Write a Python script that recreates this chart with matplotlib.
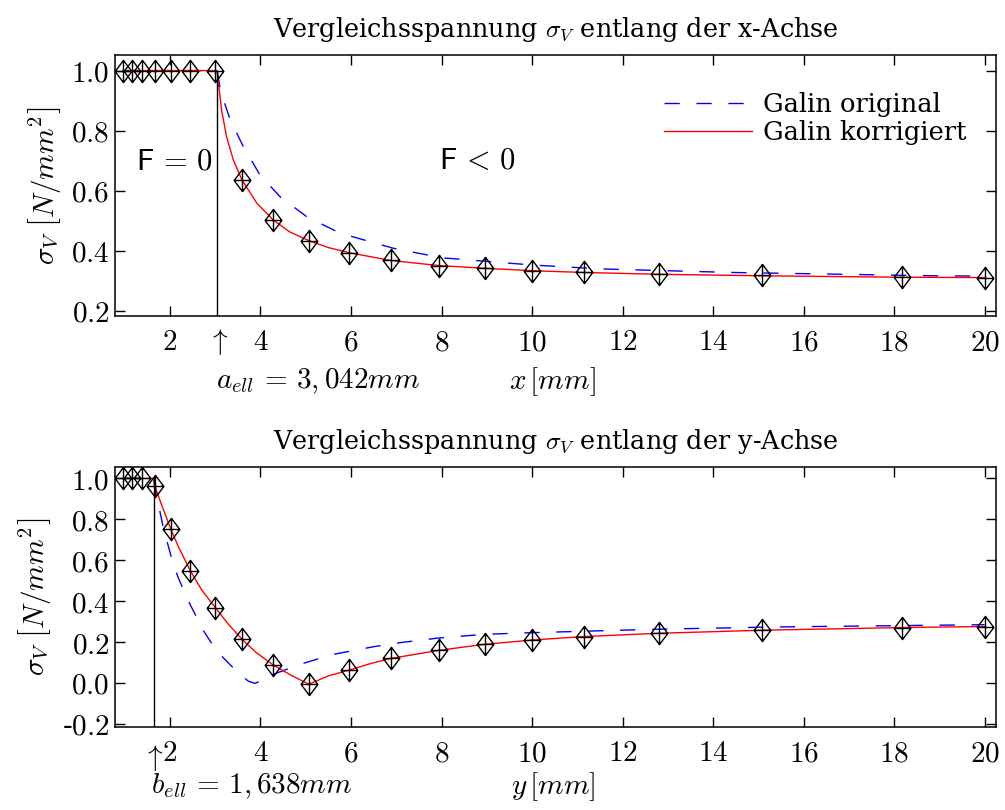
import matplotlib
matplotlib.use("Agg")
import matplotlib.pyplot as plt
from matplotlib.path import Path

plt.rcParams['mathtext.fontset'] = 'cm'
plt.rcParams['font.family'] = ['DejaVu Serif']

# marker positions (same x for both plots)
x_pts = [0.96, 1.16, 1.39, 1.67, 2.02, 2.45, 3.0, 3.59, 4.28, 5.07, 5.96, 6.88,
         7.95, 8.95, 10.0, 11.15, 12.8, 15.08, 18.18, 20.0]
top_pts = [1.0, 1.0, 1.0, 1.0, 1.0, 1.0, 1.0, 0.636, 0.502, 0.433, 0.393, 0.367,
           0.350, 0.341, 0.333, 0.327, 0.321, 0.317, 0.311, 0.310]
bot_pts = [1.0, 1.0, 1.0, 0.962, 0.751, 0.549, 0.369, 0.214, 0.088, -0.006, 0.063, 0.120,
           0.160, 0.189, 0.210, 0.227, 0.243, 0.258, 0.271, 0.276]

# top: x-axis curves
top_red_x = [0.96, 3.042, 3.07, 3.14, 3.25, 3.40, 3.59, 3.92, 4.28, 4.65, 5.07, 5.5, 5.96,
             6.88, 7.95, 8.95, 10.0, 11.15, 12.8, 15.08, 18.18, 20.0]
top_red_y = [1.0, 1.0, 0.958, 0.869, 0.78, 0.702, 0.636, 0.558, 0.502, 0.462, 0.433, 0.410, 0.393,
             0.367, 0.350, 0.341, 0.333, 0.327, 0.321, 0.316, 0.311, 0.310]
top_blue_x = [0.96, 3.042, 3.1, 3.2, 3.33, 3.62, 3.99, 4.43, 5.02, 5.76, 6.93, 8.0, 10.0,
              11.5, 14.44, 18.86, 20.0]
top_blue_y = [1.0, 1.0, 0.95, 0.895, 0.836, 0.747, 0.652, 0.58, 0.513, 0.458, 0.408, 0.376, 0.352,
              0.339, 0.327, 0.316, 0.315]

# bottom: y-axis curves
bot_red_x = [0.96, 1.638, 1.67, 1.8, 2.02, 2.2, 2.45, 2.7, 3.0, 3.3, 3.59, 3.9, 4.28, 4.7, 5.07,
             5.5, 5.96, 6.4, 6.88, 7.95, 8.95, 10.0, 11.15, 12.8, 15.08, 18.18, 20.0]
bot_red_y = [1.0, 1.0, 0.962, 0.88, 0.751, 0.66, 0.549, 0.455, 0.369, 0.285, 0.214, 0.150, 0.088,
             0.035, -0.006, 0.035, 0.063, 0.093, 0.120, 0.160, 0.189, 0.210, 0.227, 0.243, 0.258,
             0.271, 0.276]
bot_blue_x = [0.96, 1.638, 1.7, 1.78, 1.85, 2.04, 2.18, 2.44, 2.74, 2.96, 3.18, 3.47, 3.73, 3.88,
              3.99, 4.28, 4.87, 5.61, 6.49, 7.08, 7.9, 8.95, 10.0, 12.8, 15.4, 19.6, 20.0]
bot_blue_y = [1.0, 1.0, 0.92, 0.836, 0.762, 0.607, 0.516, 0.386, 0.255, 0.181, 0.123, 0.058, 0.009,
              -0.002, 0.009, 0.042, 0.091, 0.14, 0.177, 0.197, 0.219, 0.238, 0.246, 0.263, 0.274,
              0.284, 0.285]

a_ell = 3.042
b_ell = 1.638

xticks = [2, 4, 6, 8, 10, 12, 14, 16, 18, 20]
top_yticks = [0.2, 0.4, 0.6, 0.8, 1.0]
bot_yticks = [-0.2, 0.0, 0.2, 0.4, 0.6, 0.8, 1.0]

# diamond with a cross inside
mverts = [(0, 1), (0.75, 0), (0, -1), (-0.75, 0), (0, 1),
          (0, 1), (0, -1), (-0.75, 0), (0.75, 0)]
mcodes = [Path.MOVETO, Path.LINETO, Path.LINETO, Path.LINETO, Path.CLOSEPOLY,
          Path.MOVETO, Path.LINETO, Path.MOVETO, Path.LINETO]
dmarker = Path(mverts, mcodes)

fig = plt.figure(figsize=(10.05, 8.1), dpi=100)
ax1 = fig.add_axes([0.1144, 0.6099, 0.8766, 0.3222])
ax2 = fig.add_axes([0.1144, 0.1025, 0.8766, 0.3210])

ylab = r'$\sigma_V\ \left[N/mm^2\right]$'
fs = 21
dash = (11, 12)

def style(ax, yticks, ylim):
    ax.set_xlim(0.785, 20.25)
    ax.set_ylim(*ylim)
    ax.set_xticks(xticks)
    ax.set_xticklabels(['$%d$' % t for t in xticks])
    ax.set_yticks(yticks)
    ax.set_yticklabels([('-$%.1f$' % abs(t)) if t < 0 else '$%.1f$' % t for t in yticks])
    ax.tick_params(direction='in', top=True, right=True, length=7, width=1,
                   labelsize=fs)
    ax.tick_params(axis='x', pad=9)
    ax.tick_params(axis='y', pad=4)
    for s in ax.spines.values():
        s.set_linewidth(1.1)
    ax.set_ylabel(ylab, fontsize=fs, labelpad=6)

# top plot
ax1.plot(top_blue_x, top_blue_y, color='blue', lw=1.0, dashes=dash, label='Galin original')
ax1.plot(top_red_x, top_red_y, color='red', lw=1.0, label='Galin korrigiert')
ax1.plot(x_pts, top_pts, ls='none', marker=dmarker, ms=16, mfc='none', mec='black', mew=1.0)
ax1.plot([a_ell, a_ell], [0.0, 1.0], color='black', lw=1.0)
style(ax1, top_yticks, (0.182, 1.052))
ax1.set_title(r'Vergleichsspannung $\sigma_V$ entlang der x-Achse', fontsize=18.4, pad=13)
ax1.text(2.11, 0.70, r'$\mathsf{F}\,=\,0$', fontsize=22, ha='center', va='center')
ax1.text(8.8, 0.70, r'$\mathsf{F}\,<\,0$', fontsize=22, ha='center', va='center')
ax1.legend(loc='upper right', bbox_to_anchor=(0.967, 0.86), frameon=False, fontsize=18.5,
           handlelength=3.4, handletextpad=0.45, labelspacing=0.12, borderpad=0,
           borderaxespad=0)
ax1.annotate(r'$\uparrow$', xy=(a_ell, 0), xycoords=('data', 'axes fraction'),
             xytext=(0, -19), textcoords='offset points', ha='center', va='center', fontsize=fs)
ax1.annotate(r'$a_{ell}\,=\,3,042mm$', xy=(5.27, 0), xycoords=('data', 'axes fraction'),
             xytext=(0, -47), textcoords='offset points', ha='center', va='center', fontsize=fs)
ax1.annotate(r'$x\,[mm]$', xy=(10.46, 0), xycoords=('data', 'axes fraction'),
             xytext=(0, -47), textcoords='offset points', ha='center', va='center', fontsize=fs)

# bottom plot
ax2.plot(bot_blue_x, bot_blue_y, color='blue', lw=1.0, dashes=dash)
ax2.plot(bot_red_x, bot_red_y, color='red', lw=1.0)
ax2.plot(x_pts, bot_pts, ls='none', marker=dmarker, ms=16, mfc='none', mec='black', mew=1.0)
ax2.plot([b_ell, b_ell], [-0.5, 1.0], color='black', lw=1.0)
style(ax2, bot_yticks, (-0.215, 1.056))
ax2.set_title(r'Vergleichsspannung $\sigma_V$ entlang der y-Achse', fontsize=18.4, pad=13)
ax2.annotate(r'$\uparrow$', xy=(b_ell, 0), xycoords=('data', 'axes fraction'),
             xytext=(-1, -22), textcoords='offset points', ha='center', va='center', fontsize=fs)
ax2.annotate(r'$b_{ell}\,=\,1,638mm$', xy=(3.8, 0), xycoords=('data', 'axes fraction'),
             xytext=(0, -43), textcoords='offset points', ha='center', va='center', fontsize=fs)
ax2.annotate(r'$y\,[mm]$', xy=(10.46, 0), xycoords=('data', 'axes fraction'),
             xytext=(0, -43), textcoords='offset points', ha='center', va='center', fontsize=fs)

fig.savefig('out.png', dpi=100)
